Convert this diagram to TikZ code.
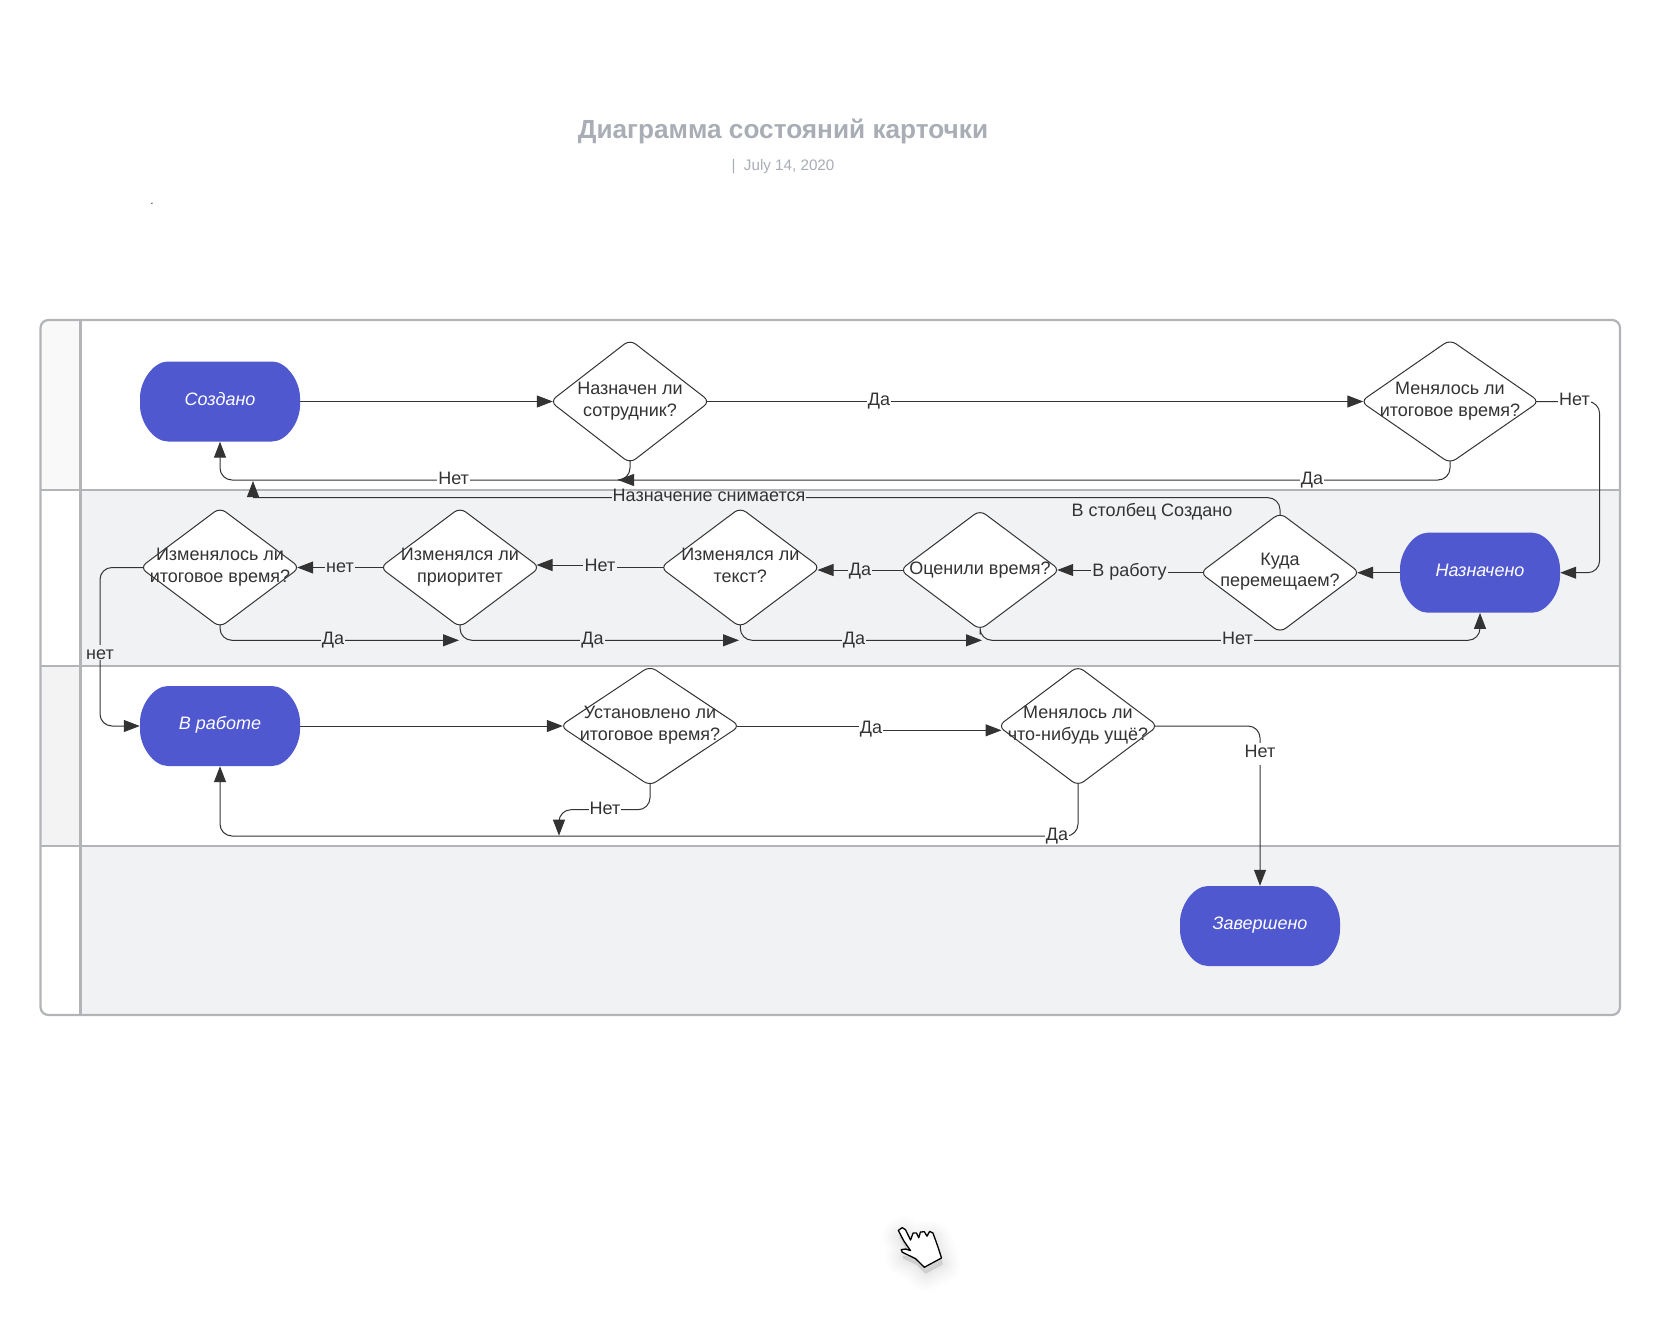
\documentclass[tikz,border=0pt]{standalone}
\usepackage{fontspec}
\setmainfont{Liberation Sans}
\usetikzlibrary{arrows.meta,shapes.geometric}
\pgfdeclarelayer{bg}
\pgfdeclarelayer{cn}
\pgfsetlayers{bg,cn,main}
\definecolor{bandc}{HTML}{F1F2F4}
\definecolor{stripa}{HTML}{F9F9F9}
\definecolor{stripb}{HTML}{F3F3F4}
\definecolor{framec}{HTML}{B2B4B7}
\definecolor{pillc}{HTML}{5058D0}
\definecolor{inkc}{HTML}{333333}
\definecolor{titlec}{HTML}{A9ADB6}
\tikzset{
  plainline/.style={draw=inkc,line width=1pt,rounded corners=12pt,shorten <=-4pt},
  arr/.style={plainline,-{Triangle[length=16pt,width=12pt]}},
  arrd/.style={arr,shorten >=-3.3pt},
  dia/.style={shape=diamond,draw=inkc,fill=white,line width=1pt,inner sep=0pt,rounded corners=7pt},
  diatext/.style={text=inkc,align=center,inner sep=0pt,font=\fontsize{18}{21.7}\selectfont},
  pilltext/.style={text=white,inner sep=0pt,font=\fontsize{18}{21.7}\selectfont\itshape},
  lbl/.style={text=inkc,inner xsep=1pt,inner ysep=0pt,text height=9pt,text depth=1pt,yshift=-2.5pt,font=\fontsize{18}{21.7}\selectfont},
  lblw/.style={lbl,fill=white},
  lblg/.style={lbl,fill=bandc},
  tall/.style={text height=15pt,text depth=7pt},
  tallb/.style={text height=14pt,text depth=1pt},
}
\newcommand{\pillshape}[5]{%
  \fill[pillc] ({#2-52},{#3-40}) -- ({#2+52},{#3-40})
    .. controls ({#2+67},{#3-40}) and ({#2+80},{#3-20}) .. ({#2+80},{#3-4}) -- ({#2+80},{#3+4})
    .. controls ({#2+80},{#3+20}) and ({#2+67},{#3+40}) .. ({#2+52},{#3+40}) -- ({#2-52},{#3+40})
    .. controls ({#2-67},{#3+40}) and ({#2-80},{#3+20}) .. ({#2-80},{#3+4}) -- ({#2-80},{#3-4})
    .. controls ({#2-80},{#3-20}) and ({#2-67},{#3-40}) .. ({#2-52},{#3-40}) -- cycle;
  \node[pilltext,minimum width=160pt,minimum height=80pt] (#1) at (#2,#3) {};
  \node[pilltext] (#1-t) at (#2,{#3-#5}) {#4};
}
\newcommand{\dianode}[7][0]{%
  \node[dia,minimum width=#5pt,minimum height=#6pt] (#2) at (#3,#4) {};
  \node[diatext] (#2-t) at (#3,{#4-#1}) {#7};
}
\begin{document}
\begin{tikzpicture}[x=1pt,y=-1pt]
\useasboundingbox (0,0) rectangle (1670,1330);
% lanes
\begin{pgfonlayer}{bg}
\fill[white] (0,0) rectangle (1670,1330);
\begin{scope}
  \clip[rounded corners=8pt] (40.5,320) rectangle (1620,1015);
  \fill[stripa] (40.5,320) rectangle (80.5,490);
  \fill[bandc] (80.5,490) rectangle (1620,665.7);
  \fill[stripb] (40.5,665.7) rectangle (80.5,845.7);
  \fill[bandc] (80.5,845.7) rectangle (1620,1015);
\end{scope}
\draw[framec,line width=2.2pt] (40.5,490) -- (1620,490);
\draw[framec,line width=2.2pt] (40.5,665.7) -- (1620,665.7);
\draw[framec,line width=2.2pt] (40.5,845.7) -- (1620,845.7);
\draw[framec,line width=2.2pt] (80.5,320) -- (80.5,1015);
\draw[framec,line width=2.2pt,rounded corners=8pt] (40.5,320) rectangle (1620,1015);
\end{pgfonlayer}
% title
\node[text=titlec,font=\fontsize{26.2}{30}\selectfont\bfseries,inner sep=0pt] (title) at (783,131) {Диаграмма состояний карточки};
\node[text=titlec,font=\fontsize{15.2}{18}\selectfont,inner sep=0pt] (date) at (783,167) {|\ \ July 14, 2020};
\node[text=inkc,font=\fontsize{12}{14}\selectfont,inner sep=0pt] (dot) at (152,204) {.};
% states
\pillshape{sozd}{220}{401.5}{Создано}{2.5}
\pillshape{nzd}{1480}{572.7}{Назначено}{2.5}
\pillshape{vr}{220}{726}{В работе}{1}
\pillshape{zav}{1260}{926}{Завершено}{1}
% decisions
\dianode{nazn}{630}{401.5}{160}{124}{Назначен ли\\сотрудник?}
\dianode{men}{1450}{401.5}{179}{124}{Менялось ли\\итоговое время?}
\dianode{iz}{220}{567.5}{160}{120}{Изменялось ли\\итоговое время?}
\dianode{pr}{460}{567.5}{160}{120}{Изменялся ли\\приоритет}
\dianode[2]{tx}{740.3}{567.5}{160}{120}{Изменялся ли\\текст?}
\dianode{oc}{980}{570}{160}{120}{Оценили время?}
\dianode[1]{kuda}{1280}{572.7}{160}{120}{Куда\\перемещаем?}
\dianode[1]{ust}{650}{726}{180}{120}{Установлено ли\\итоговое время?}
\dianode[1]{mch}{1078}{726}{160}{120}{Менялось ли\\что-нибудь ущё?}
% labels
\node[lblw] (l1) at (879,399) {Да};
\node[lblw] (l2) at (1574.5,399) {Нет};
\node[lblw] (l3) at (1312,477.7) {Да};
\node[lblw] (l4) at (453.6,477.7) {Нет};
\node[lblg] (l5) at (709,495) {Назначение снимается};
\node[text=inkc,inner sep=0pt,font=\fontsize{18}{21.7}\selectfont] (l6) at (1152,512) {В столбец Создано};
\node[lblg] (l7) at (1129.5,570) {В работу};
\node[lblg] (l8) at (860,568.5) {Да};
\node[lblg] (l9) at (600,564.5) {Нет};
\node[lblg] (l10) at (340,566) {нет};
\node[lblg,tallb] (l11) at (100,650) {нет};
\node[lblg] (l12) at (333,638) {Да};
\node[lblg] (l13) at (592.5,638) {Да};
\node[lblg] (l14) at (854,638) {Да};
\node[lblg] (l15) at (1237.5,638) {Нет};
\node[lblw] (l16) at (871,727.3) {Да};
\node[lblw] (l17) at (605,808) {Нет};
\node[lblw] (l18) at (1057,834.3) {Да};
\node[lblw,tall] (l19) at (1260,751.3) {Нет};
% free ends and bends
\coordinate (m1) at (618,480);
\coordinate (snA) at (253,497.7);
\coordinate (snB) at (253,481);
\coordinate (rtR) at (1599.6,572.7);
\coordinate (wVr) at (100,726);
\coordinate (a1) at (459,640.3);
\coordinate (a2) at (739,640.3);
\coordinate (a3) at (982,640.3);
\coordinate (a4) at (1480,640.3);
\coordinate (prIn) at (536.5,565);
\coordinate (b1) at (559,809.7);
\coordinate (t1) at (559,835.7);
\coordinate (b2) at (220,836);
\coordinate (mIn) at (1001.5,730.3);
\begin{pgfonlayer}{cn}
\draw[arrd] (sozd.east) -- (nazn.west);
\draw[arrd] (nazn.east) -- (men.west);
\draw[arr] (men.east) -| (rtR) -- (nzd.east);
\draw[arr] (men.south) |- (m1);
\draw[arr] (m1) -| (sozd.south);
\draw[plainline] (nazn.south) |- (m1);
\draw[plainline] (kuda.north) |- (snA);
\draw[arr,rounded corners=0pt,shorten <=0pt] (snA) -- (snB);
\draw[arrd] (nzd.west) -- (kuda.east);
\draw[plainline] (kuda.west) -- (l7.east |- kuda.west);
\draw[arrd,shorten <=0pt] (l7.west |- oc.east) -- (oc.east);
\draw[arrd] (oc.west) -- (oc.west -| tx.east);
\draw[plainline] (tx.west) -- (l9.east |- tx.west);
\draw[arr,shorten <=0pt] (l9.west |- prIn) -- (prIn);
\draw[arrd] (pr.west) -- (iz.east);
\draw[arr] (iz.west) -| (wVr) -- (vr.west);
\draw[arr] (iz.south) |- (a1);
\draw[arr] (pr.south) |- (a2);
\draw[arr] (tx.south) |- (a3);
\draw[arr] (oc.south) |- (a4) -- (nzd.south);
\draw[arrd] (vr.east) -- (ust.west);
\draw[plainline] (ust.east) -- (l16.east |- ust.east);
\draw[arr,shorten <=0pt] (l16.west |- mIn) -- (mIn);
\draw[arr] (ust.south) |- (b1) -- (t1);
\draw[arr] (mch.south) |- (b2) -- (vr.south);
\draw[arr] (mch.east) -| (zav.north);
\end{pgfonlayer}
% pointer
\begin{scope}[shift={(861,1201)},x=.33pt,y=-.32pt]
\foreach \w/\o in {36/.008,30/.01,24/.012,18/.014,12/.016,6/.018,1/.02}{
  \draw[black,fill=black,opacity=\o,line width=\w pt,line join=round,shift={(4,20)}]
    (113,92)--(125,83)--(135,90)--(150,122)--(158,100)--(168,100)--(175,115)--(180,97)--(192,96)--(200,110)--(208,95)--(218,100)--(232,140)--(244,178)--(192,207)--(165,180)--(125,160)--(122,152)--(135,150)--(150,155)--(130,125)--cycle;
}
\draw[black,fill=white,line width=1.3pt,line join=round]
    (113,92)--(125,83)--(135,90)--(150,122)--(158,100)--(168,100)--(175,115)--(180,97)--(192,96)--(200,110)--(208,95)--(218,100)--(232,140)--(244,178)--(192,207)--(165,180)--(125,160)--(122,152)--(135,150)--(150,155)--(130,125)--cycle;
\end{scope}
\end{tikzpicture}
\end{document}
